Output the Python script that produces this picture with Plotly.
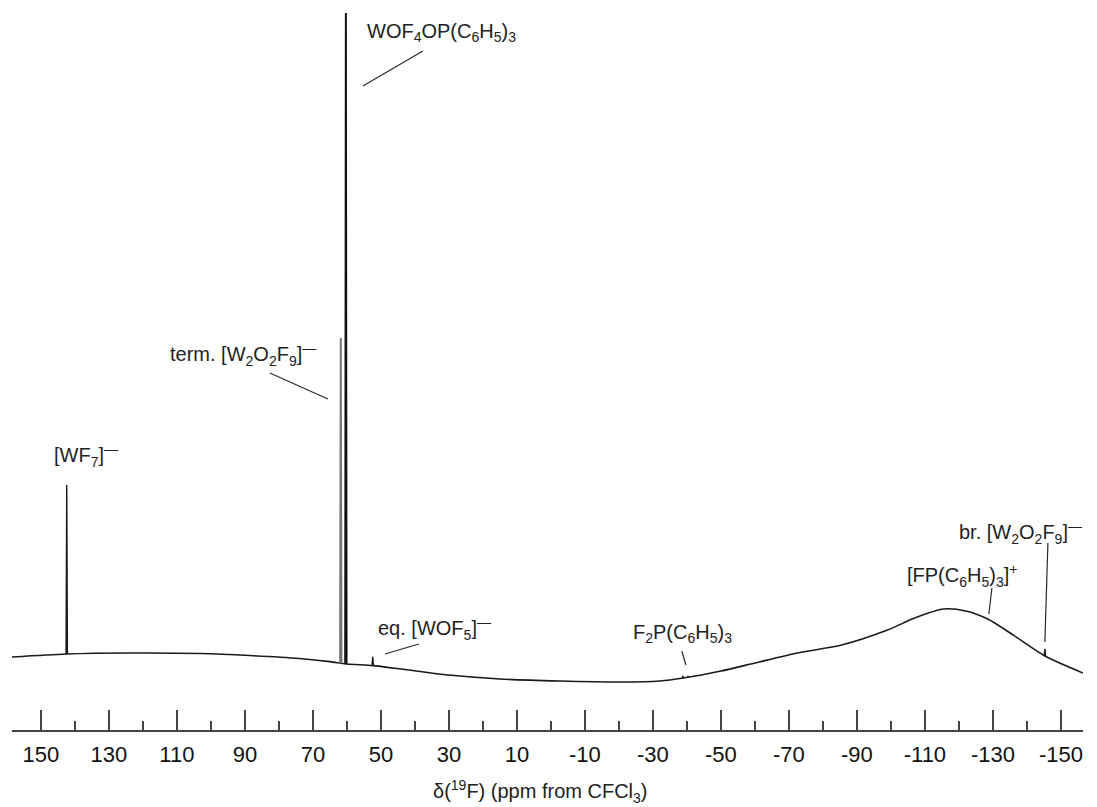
import numpy as np
import plotly.graph_objects as go

# 19F NMR spectrum: smooth baseline (ppm, intensity a.u.)
base_ppm = [158.5, 142.4, 124, 103, 88.5, 74, 65, 60, 52.4, 44, 30, 15, -2.5, -20,
            -32, -39, -50, -60, -72.5, -85.5, -99, -107, -115.5, -122, -128.5, -136,
            -145.3, -156.5]
base_int = [3.88, 4.33, 4.48, 4.40, 4.10, 3.66, 3.20, 2.84, 2.60, 2.09, 1.19, 0.60,
            0.30, 0.15, 0.30, 0.75, 1.79, 2.99, 4.48, 5.67, 7.91, 9.70, 11.04, 10.75,
            9.55, 7.16, 4.03, 1.49]

# sharp resonances: position (ppm) and top intensity (a.u.)
peak_ppm = [142.4, 61.8, 60.3, 52.4, -38.8, -40.3, -145.3]
peak_top = [29.55, 51.5, 100.0, 3.9, 1.1, 1.05, 5.1]
peak_color = ["#1a1a1a", "#777777", "#111111", "#1a1a1a", "#1a1a1a", "#1a1a1a", "#1a1a1a"]
peak_width = [1.4, 2.0, 2.0, 1.4, 1.2, 1.2, 1.4]

# tick labels
major_ticks = list(range(150, -151, -20))
tick_text = [str(v) for v in major_ticks]

FONT = "Liberation Sans, Arial, sans-serif"
LINE = "#1a1a1a"

fig = go.Figure()

fig.add_trace(go.Scatter(
    x=base_ppm, y=base_int, mode="lines",
    line=dict(color=LINE, width=1.6, shape="spline", smoothing=0.7),
    hoverinfo="skip", showlegend=False))

for p, top, col, w in zip(peak_ppm, peak_top, peak_color, peak_width):
    b = float(np.interp(-p, [-v for v in base_ppm], base_int))
    fig.add_trace(go.Scatter(
        x=[p + 0.2, p, p - 0.2], y=[b, top, b], mode="lines",
        line=dict(color=col, width=w), hoverinfo="skip", showlegend=False))

# peak labels: text, x (ppm), y (a.u.), anchor
labels = [
    ("WOF<sub>4</sub>OP(C<sub>6</sub>H<sub>5</sub>)<sub>3</sub>", 54.7, 97.16, "left"),
    ("term. [W<sub>2</sub>O<sub>2</sub>F<sub>9</sub>]<sup>—</sup>", 68.5, 48.96, "right"),
    ("[WF<sub>7</sub>]<sup>—</sup>", 146.8, 34.03, "left"),
    ("eq. [WOF<sub>5</sub>]<sup>—</sup>", 51.5, 8.21, "left"),
    ("F<sub>2</sub>P(C<sub>6</sub>H<sub>5</sub>)<sub>3</sub>", -38.8, 7.46, "center"),
    ("[FP(C<sub>6</sub>H<sub>5</sub>)<sub>3</sub>]<sup>+</sup>", -104.1, 16.12, "left"),
    ("br. [W<sub>2</sub>O<sub>2</sub>F<sub>9</sub>]<sup>—</sup>", -119.5, 22.54, "left"),
]
# leader lines: (x0, y0, x1, y1) in ppm / a.u.
leaders = [
    (55.3, 89.10, 37.65, 94.33),
    (82.65, 46.27, 65.59, 42.39),
    (48.82, 4.33, 38.82, 5.82),
    (-38.53, 4.78, -39.71, 2.69),
    (-129.71, 14.18, -128.82, 10.30),
    (-146.18, 20.90, -145.29, 6.12),
]

for text, x, y, anc in labels:
    fig.add_annotation(x=x, y=y, xref="x", yref="y", text=text, showarrow=False,
                       xanchor=anc, yanchor="middle",
                       font=dict(family=FONT, size=20, color="#222222"))

for x0, y0, x1, y1 in leaders:
    fig.add_shape(type="line", xref="x", yref="y", x0=x0, y0=y0, x1=x1, y1=y1,
                  line=dict(color="#2a2a2a", width=1.2))

fig.add_annotation(xref="paper", yref="paper", x=0.493, y=-0.085,
                   text="δ(<sup>19</sup>F) (ppm from CFCl<sub>3</sub>)",
                   showarrow=False, xanchor="center", yanchor="middle",
                   font=dict(family=FONT, size=20, color="#222222"))

fig.update_layout(
    width=1097, height=807,
    margin=dict(l=12, r=14, t=5, b=77),
    paper_bgcolor="white", plot_bgcolor="white",
    xaxis=dict(
        range=[158.5, -156.5],
        showgrid=False, zeroline=False,
        showline=True, linecolor="#444444", linewidth=2,
        ticks="inside", ticklen=20, tickwidth=2, tickcolor="#444444",
        tickmode="array", tickvals=major_ticks, ticktext=tick_text,
        tickfont=dict(family=FONT, size=22, color="#111111"),
        ticklabelstandoff=4,
        minor=dict(ticks="inside", ticklen=9, tickwidth=2, tickcolor="#444444",
                   tickmode="array", tickvals=list(range(140, -141, -20))),
    ),
    yaxis=dict(range=[-7.01, 101.19], visible=False, showgrid=False, zeroline=False),
)

fig.write_html("out.html")
